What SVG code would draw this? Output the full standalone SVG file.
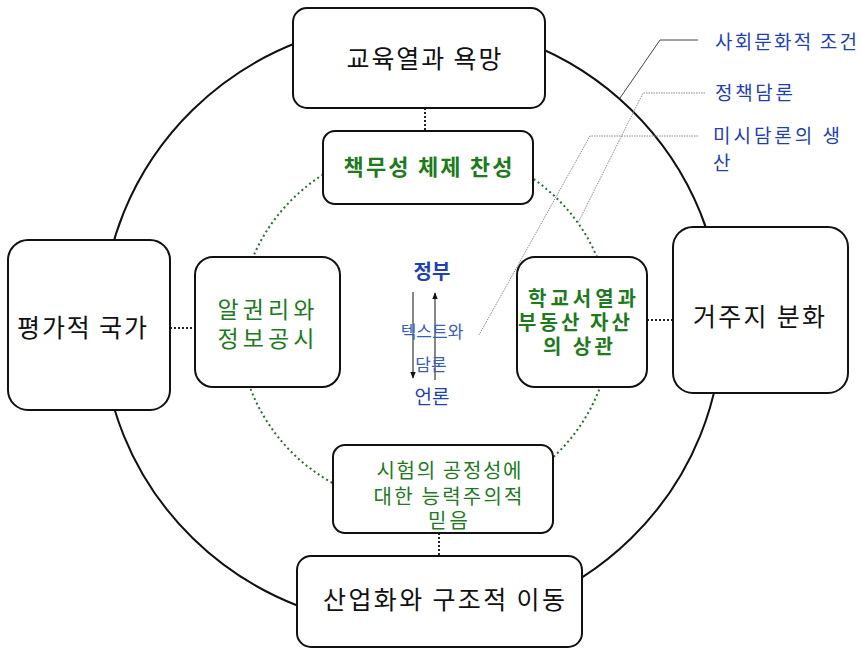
<svg xmlns="http://www.w3.org/2000/svg" width="861" height="649" viewBox="0 0 861 649">
<style>
.box{fill:#fff;stroke:#111;stroke-width:2}
.t{font-family:"Noto Sans CJK KR","Noto Sans",sans-serif;text-anchor:middle}
.big{font-size:25px;fill:#111}
.grn{fill:#1d7a1d}
.grnb{fill:#1d7a1d;font-weight:bold}
.blu{fill:#1f3fb5}
.lab{font-family:"Noto Sans CJK KR","Noto Sans",sans-serif;font-size:19px;fill:#1f3fb5}
.dotk{stroke:#222;stroke-width:2;stroke-dasharray:2 2;fill:none}
.arr{stroke:#111;stroke-width:1;fill:none}
.call{fill:none;stroke:#8a8a8a;stroke-width:1;stroke-dasharray:1.5 1}
</style>
<defs>
<marker id="ah" viewBox="0 0 10 10" refX="9" refY="5" markerWidth="7" markerHeight="7" orient="auto"><path d="M0,1 L10,5 L0,9 z" fill="#111"/></marker>
</defs>
<g id="circles">
<ellipse cx="412" cy="324" rx="310" ry="303" fill="none" stroke="#111" stroke-width="2"/>
<ellipse cx="425" cy="326" rx="186" ry="181" fill="none" stroke="#2a6e2a" stroke-width="2" stroke-dasharray="2 3"/>
</g>
<g id="connectors">
<line class="dotk" x1="425" y1="108" x2="425" y2="131"/>
<line class="dotk" x1="170" y1="328" x2="195" y2="328"/>
<line class="dotk" x1="647" y1="320" x2="673" y2="320"/>
<line class="dotk" x1="439" y1="533" x2="439" y2="556"/>
<polyline points="698,40 660,40 620,98" fill="none" stroke="#444" stroke-width="1"/>
<polyline class="call" points="705,93 643,93 578,223"/>
<polyline class="call" points="698,136 590,136 479,335"/>
<line class="arr" x1="413" y1="292" x2="413" y2="378" marker-end="url(#ah)"/>
<line class="arr" x1="435" y1="380" x2="435" y2="293" marker-end="url(#ah)"/>
</g>
<g id="n-top">
<rect class="box" x="293" y="8" width="252" height="100" rx="14"/>
<text class="t big" x="424" y="68" textLength="155" lengthAdjust="spacing">교육열과 욕망</text>
</g>
<g id="n-accountability">
<rect class="box" x="323" y="131" width="210" height="73" rx="12"/>
<text class="t grnb" x="428" y="175" font-size="22" textLength="169" lengthAdjust="spacing">책무성 체제 찬성</text>
</g>
<g id="n-left">
<rect class="box" x="8" y="240" width="162" height="170" rx="20"/>
<text class="t big" x="82" y="337" font-size="24" textLength="130" lengthAdjust="spacing">평가적 국가</text>
</g>
<g id="n-info">
<rect class="box" x="195" y="257" width="145" height="130" rx="18"/>
<text class="t grn" x="266" y="318" font-size="23" textLength="97" lengthAdjust="spacing">알권리와</text>
<text class="t grn" x="266" y="347" font-size="23" textLength="97" lengthAdjust="spacing">정보공시</text>
</g>
<g id="n-school">
<rect class="box" x="517" y="257" width="130" height="130" rx="18"/>
<text class="t grnb" x="582" y="306" font-size="20" textLength="108" lengthAdjust="spacing">학교서열과</text>
<text class="t grnb" x="574" y="330" font-size="20" textLength="112" lengthAdjust="spacing">부동산 자산</text>
<text class="t grnb" x="578" y="354" font-size="20" textLength="70" lengthAdjust="spacing">의 상관</text>
</g>
<g id="n-right">
<rect class="box" x="673" y="227" width="175" height="166" rx="20"/>
<text class="t big" x="759" y="326" textLength="132" lengthAdjust="spacing">거주지 분화</text>
</g>
<g id="n-exam">
<rect class="box" x="333" y="445" width="220" height="88" rx="12"/>
<text class="t grn" x="449" y="478" font-size="20" textLength="145" lengthAdjust="spacing">시험의 공정성에</text>
<text class="t grn" x="448" y="504" font-size="20" textLength="149" lengthAdjust="spacing">대한 능력주의적</text>
<text class="t grn" x="448" y="528" font-size="20" textLength="40" lengthAdjust="spacing">믿음</text>
</g>
<g id="n-bottom">
<rect class="box" x="297" y="556" width="285" height="91" rx="14"/>
<text class="t big" x="444" y="609" textLength="242" lengthAdjust="spacing">산업화와 구조적 이동</text>
</g>
<g id="n-center">
<text class="t blu" x="432" y="279" font-size="20" font-weight="bold">정부</text>
<text class="t blu" x="432" y="404" font-size="19">언론</text>
<text class="t" x="432" y="338" font-size="17" fill="#3a5cc0">텍스트와</text>
<text class="t" x="431" y="371" font-size="17" fill="#3a5cc0">담론</text>
</g>
<g id="labels">
<text class="lab" x="715" y="49" textLength="142" lengthAdjust="spacing">사회문화적 조건</text>
<text class="lab" x="715" y="100" textLength="78" lengthAdjust="spacing">정책담론</text>
<text class="lab" x="713" y="143" textLength="127" lengthAdjust="spacing">미시담론의 생</text>
<text class="lab" x="713" y="170">산</text>
</g>
</svg>
